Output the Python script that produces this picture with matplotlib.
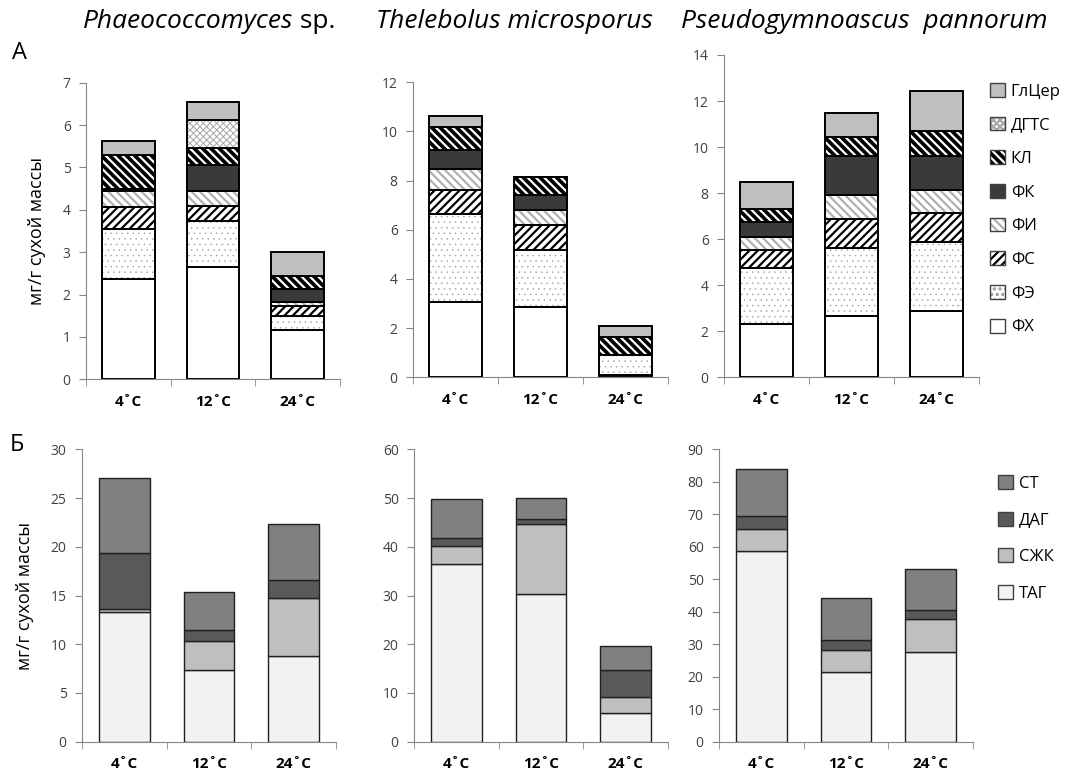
import matplotlib
matplotlib.use('Agg')
import matplotlib.pyplot as plt
from matplotlib.patches import Patch
from matplotlib.legend_handler import HandlerTuple
import numpy as np

plt.rcParams['font.family'] = ['Open Sans', 'DejaVu Sans']
plt.rcParams['hatch.linewidth'] = 1.6

temps = ['4˚C', '12˚C', '24˚C']
species = ['Phaeococcomyces', 'Thelebolus microsporus', 'Pseudogymnoascus  pannorum']

# polar lipids, mg/g dry mass, rows bottom -> top, columns 4/12/24 C
polar_names = ['ФХ', 'ФЭ', 'ФС', 'ФИ', 'ФК', 'КЛ', 'ДГТС', 'ГлЦер']
phaeo_polar = [
    [2.36, 2.64, 1.16],
    [1.19, 1.10, 0.33],
    [0.51, 0.34, 0.24],
    [0.39, 0.37, 0.10],
    [0.04, 0.61, 0.29],
    [0.81, 0.39, 0.32],
    [0.00, 0.67, 0.00],
    [0.33, 0.43, 0.57],
]
thele_polar = [
    [3.05, 2.85, 0.11],
    [3.58, 2.33, 0.80],
    [0.99, 1.02, 0.00],
    [0.85, 0.61, 0.00],
    [0.78, 0.61, 0.00],
    [0.92, 0.72, 0.74],
    [0.00, 0.00, 0.00],
    [0.47, 0.00, 0.44],
]
pseudo_polar = [
    [2.30, 2.68, 2.90],
    [2.46, 2.92, 2.99],
    [0.77, 1.26, 1.23],
    [0.58, 1.06, 1.02],
    [0.65, 1.69, 1.47],
    [0.55, 0.84, 1.09],
    [0.00, 0.00, 0.00],
    [1.19, 1.05, 1.75],
]

# neutral lipids
neutral_names = ['ТАГ', 'СЖК', 'ДАГ', 'СТ']
phaeo_neutral = [
    [13.27, 7.36, 8.83],
    [0.31, 2.97, 5.88],
    [5.75, 1.10, 1.85],
    [7.77, 3.97, 5.75],
]
thele_neutral = [
    [36.4, 30.3, 5.8],
    [3.8, 14.4, 3.4],
    [1.6, 1.1, 5.5],
    [8.1, 4.2, 4.9],
]
pseudo_neutral = [
    [58.8, 21.3, 27.5],
    [6.6, 7.0, 10.35],
    [4.2, 2.9, 2.6],
    [14.4, 13.1, 12.7],
]

# (face, hatch, hatch colour, hatch linewidth)
polar_styles = [
    ('white', None, None, 1.0),
    ('white', '...', '#9a9a9a', 0.3),
    ('white', '////', 'black', 1.6),
    ('white', '\\\\\\\\', '#b0b0b0', 1.6),
    ('#3a3a3a', None, None, 1.0),
    ('black', '\\\\\\\\', 'white', 1.6),
    ('white', 'xxxxx', '#a8a8a8', 0.7),
    ('#bfbfbf', None, None, 1.0),
]
neutral_styles = [
    ('#f2f2f2', None, None, 1.0),
    ('#bfbfbf', None, None, 1.0),
    ('#595959', None, None, 1.0),
    ('#808080', None, None, 1.0),
]

W, H = 1066, 771
fig = plt.figure(figsize=(W / 100, H / 100), dpi=100)


def px_axes(left, right, bottom, top):
    return fig.add_axes([left / W, 1 - bottom / H, (right - left) / W, (bottom - top) / H])


def stacked(ax, data, styles, width, lw, outline):
    x = np.arange(len(temps))
    bottom = np.zeros(len(temps))
    for vals, (fc, h, hc, hlw) in zip(data, styles):
        vals = np.array(vals, dtype=float)
        with plt.rc_context({'hatch.linewidth': hlw}):
            ax.bar(x, vals, width, bottom=bottom, color=fc, hatch=h,
                   edgecolor=hc if h else fc, linewidth=0)
        ax.bar(x, vals, width, bottom=bottom, fill=False, edgecolor=outline, linewidth=lw)
        bottom += vals


def style(ax, ymax, step):
    ax.set_xlim(-0.5, 2.5)
    ax.set_ylim(0, ymax)
    ax.set_yticks(np.arange(0, ymax + step / 2, step))
    for s in ['top', 'right']:
        ax.spines[s].set_visible(False)
    for s in ['left', 'bottom']:
        ax.spines[s].set_color('#868686')
    ax.tick_params(axis='y', colors='#868686', labelcolor='#404040', length=5, labelsize=10, pad=6)
    ax.set_xticks(range(3))
    ax.set_xticklabels(temps, fontweight='bold', fontsize=11)
    ax.tick_params(axis='x', which='major', length=0, pad=11)
    ax.set_xticks([-0.5, 0.5, 1.5, 2.5], minor=True)
    ax.tick_params(axis='x', which='minor', length=5, color='#868686')


top_axes = [px_axes(86, 340, 379.3, 82.7), px_axes(413, 668, 377.3, 82.3), px_axes(724, 979, 377.3, 55)]
bot_axes = [px_axes(82, 336, 741.7, 449.3), px_axes(414, 668, 741.7, 449.3), px_axes(719, 973, 741.7, 449.3)]

for ax, data, (ymax, step) in zip(top_axes, [phaeo_polar, thele_polar, pseudo_polar], [(7, 1), (12, 2), (14, 2)]):
    stacked(ax, data, polar_styles, 0.62, 1.4, 'black')
    style(ax, ymax, step)

for ax, data, (ymax, step) in zip(bot_axes, [phaeo_neutral, thele_neutral, pseudo_neutral], [(30, 5), (60, 10), (90, 10)]):
    stacked(ax, data, neutral_styles, 0.6, 1.0, '#202020')
    style(ax, ymax, step)

top_axes[0].set_ylabel('мг/г сухой массы', fontsize=13, labelpad=12)
bot_axes[0].set_ylabel('мг/г сухой массы', fontsize=13, labelpad=12)

# titles
ty = 1 - 22 / H
fig.text(293 / W, ty, species[0], style='italic', fontsize=19, ha='right', va='center')
fig.text(293 / W, ty, ' sp.', fontsize=19, ha='left', va='center')
fig.text(514 / W, ty, species[1], style='italic', fontsize=19, ha='center', va='center')
fig.text(864 / W, ty, species[2], style='italic', fontsize=19, ha='center', va='center')

fig.text(12 / W, 1 - 53 / H, 'А', fontsize=17, ha='left', va='center')
fig.text(10 / W, 1 - 445 / H, 'Б', fontsize=17, ha='left', va='center')


def legend_handles(styles):
    hs = []
    for fc, h, hc, hlw in styles:
        with plt.rc_context({'hatch.linewidth': hlw}):
            fill = Patch(facecolor=fc, hatch=h, edgecolor=hc if h else fc, linewidth=0)
        edge = Patch(fill=False, edgecolor='#404040', linewidth=1.0)
        hs.append((fill, edge))
    return hs


hp = legend_handles(polar_styles)[::-1]
fig.legend(hp, polar_names[::-1], loc='upper left', bbox_to_anchor=(990 / W, 1 - 83 / H),
           frameon=False, fontsize=12, handlelength=0.9, handleheight=0.9, labelspacing=1.02,
           handletextpad=0.35, borderaxespad=0, borderpad=0,
           handler_map={tuple: HandlerTuple(ndivide=1)})
hn = legend_handles(neutral_styles)[::-1]
fig.legend(hn, neutral_names[::-1], loc='upper left', bbox_to_anchor=(998 / W, 1 - 475 / H),
           frameon=False, fontsize=12, handlelength=0.9, handleheight=0.9, labelspacing=1.2,
           handletextpad=0.35, borderaxespad=0, borderpad=0,
           handler_map={tuple: HandlerTuple(ndivide=1)})

fig.savefig('out.png', dpi=100)
